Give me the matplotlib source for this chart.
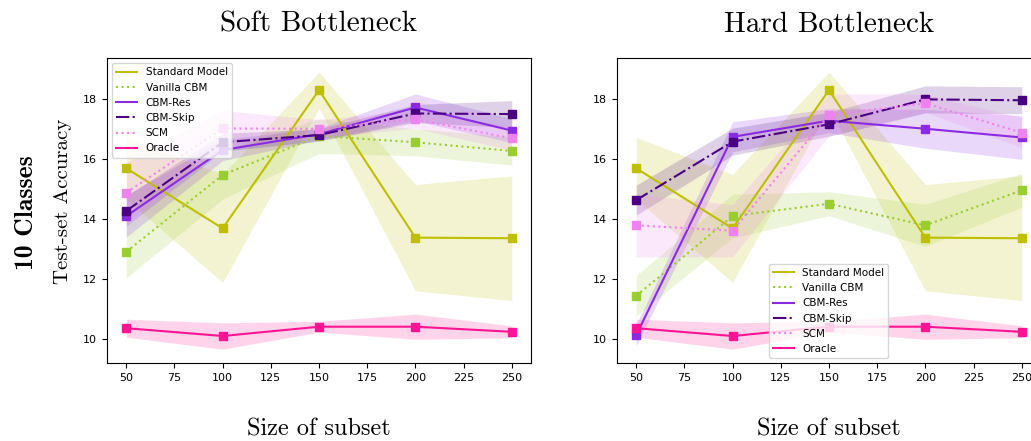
import numpy as np
import matplotlib
matplotlib.use('Agg')
import matplotlib.pyplot as plt

# subset sizes on the x axis
sizes = [50, 100, 150, 200, 250]

# mean / std of test-set accuracy, soft bottleneck
standard_mean = [15.70, 13.70, 18.31, 13.39, 13.37]
standard_std = [1.03, 1.80, 0.60, 1.77, 2.08]

oracle_mean = [10.37, 10.11, 10.42, 10.42, 10.25]
oracle_std = [0.30, 0.44, 0.18, 0.42, 0.20]

soft_vanilla_mean = [12.92, 15.48, 16.78, 16.57, 16.28]
soft_vanilla_std = [0.87, 0.80, 0.58, 0.45, 0.47]
soft_res_mean = [14.11, 16.31, 16.84, 17.73, 16.96]
soft_res_std = [0.70, 0.35, 0.20, 0.45, 0.40]
soft_skip_mean = [14.28, 16.57, 16.81, 17.53, 17.51]
soft_skip_std = [0.50, 0.30, 0.20, 0.30, 0.45]
soft_scm_mean = [14.89, 17.03, 17.02, 17.34, 16.70]
soft_scm_std = [1.00, 0.60, 0.30, 0.30, 0.40]

# hard bottleneck
hard_vanilla_mean = [11.45, 14.11, 14.52, 13.80, 14.97]
hard_vanilla_std = [0.67, 0.73, 0.40, 0.70, 0.56]
hard_res_mean = [10.14, 16.75, 17.29, 17.02, 16.73]
hard_res_std = [0.35, 0.50, 0.40, 0.65, 0.73]
hard_skip_mean = [14.64, 16.59, 17.17, 18.00, 17.97]
hard_skip_std = [0.50, 0.45, 0.40, 0.45, 0.45]
hard_scm_mean = [13.80, 13.62, 17.48, 17.87, 16.89]
hard_scm_std = [1.05, 0.87, 0.70, 0.30, 0.50]

labels = ['Standard Model', 'Vanilla CBM', 'CBM-Res', 'CBM-Skip', 'SCM', 'Oracle']
colors = ['#bfbf00', 'yellowgreen', 'blueviolet', 'indigo', 'violet', 'deeppink']
styles = ['-', ':', '-', '-.', ':', '-']

soft = [(standard_mean, standard_std), (soft_vanilla_mean, soft_vanilla_std),
        (soft_res_mean, soft_res_std), (soft_skip_mean, soft_skip_std),
        (soft_scm_mean, soft_scm_std), (oracle_mean, oracle_std)]
hard = [(standard_mean, standard_std), (hard_vanilla_mean, hard_vanilla_std),
        (hard_res_mean, hard_res_std), (hard_skip_mean, hard_skip_std),
        (hard_scm_mean, hard_scm_std), (oracle_mean, oracle_std)]

fig = plt.figure(figsize=(10.31, 4.41), dpi=100)
ax1 = fig.add_axes([0.1038, 0.1769, 0.4113, 0.6916])
ax2 = fig.add_axes([0.5984, 0.1769, 0.4113, 0.6916])


def draw(ax, runs, title):
    x = np.array(sizes)
    for (m, s), lab, c, ls in zip(runs, labels, colors, styles):
        m = np.array(m)
        s = np.array(s)
        ax.fill_between(x, m - s, m + s, color=c, alpha=0.18, linewidth=0)
        ax.plot(x, m, ls, color=c, lw=1.5, label=lab)
        ax.plot(x, m, 's', color=c, ms=6)
    ax.set_xlim(40, 260)
    ax.set_ylim(9.21, 19.38)
    ax.set_xticks(range(50, 251, 25))
    ax.set_yticks([10, 12, 14, 16, 18])
    ax.tick_params(labelsize=8)
    ax.set_title(title, fontfamily='cmr10', fontsize=21, pad=19)
    ax.set_xlabel('Size of subset', fontfamily='cmr10', fontsize=17.5, labelpad=26)


draw(ax1, soft, 'Soft Bottleneck')
draw(ax2, hard, 'Hard Bottleneck')

ax1.set_ylabel('Test-set Accuracy', fontfamily='cmr10', fontsize=15)
ax1.yaxis.set_label_coords(-0.083, 0.531)
fig.text(0.026, 0.517, '10 Classes', fontfamily='cmb10', fontsize=18.5,
         rotation=90, ha='center', va='center')

ax1.legend(loc='upper left', fontsize=7.5, handlelength=2.0)
ax2.legend(loc='lower left', bbox_to_anchor=(0.358, 0.016), borderaxespad=0,
           fontsize=7.5, handlelength=2.0)

fig.savefig('out.png', dpi=100)
